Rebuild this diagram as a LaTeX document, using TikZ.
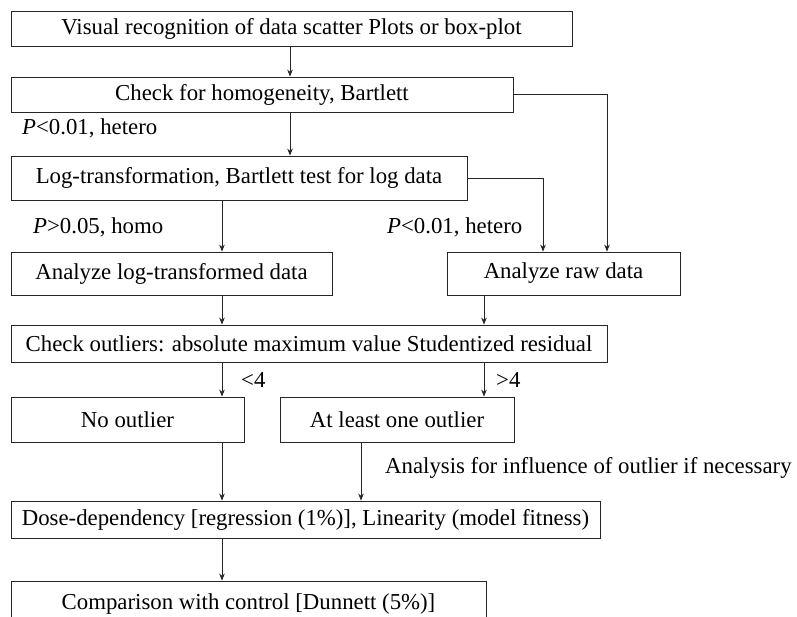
\documentclass[tikz,border=0pt]{standalone}
\usepackage{fontspec}
\setmainfont{Liberation Serif}
\usetikzlibrary{arrows.meta}
\begin{document}
\begin{tikzpicture}[x=1pt,y=-1pt,
  font=\fontsize{22.8}{26}\selectfont,
  box/.style={draw=black!85, line width=0.8pt, inner sep=0pt, anchor=center},
  arr/.style={draw=black!85, line width=0.8pt, -{Stealth[length=7pt,width=5.5pt]}},
  lbl/.style={anchor=west, inner sep=0pt}]
\useasboundingbox (0,0) rectangle (797,617);
\fill[white] (0,0) rectangle (797,617);
% boxes
\node[box, minimum width=561pt, minimum height=35pt] (b1) at (291.5,28.5) {Visual recognition of data scatter Plots or box-plot};
\node[box, minimum width=502pt, minimum height=35pt] (b2) at (262,94.5) {Check for homogeneity, Bartlett};
\node[box, minimum width=456pt, minimum height=44pt] (b3) at (239,178) {Log-transformation, Bartlett test for log data};
\node[box, minimum width=321pt, minimum height=43pt] (b4) at (171.5,273.5) {Analyze log-transformed data};
\node[box, minimum width=233pt, minimum height=43pt] (b5) at (563.5,273.5) {Analyze raw data};
\node[box, minimum width=596pt, minimum height=37pt] (b6) at (309,343.5) {Check outliers: absolute maximum value Studentized residual};
\node[box, minimum width=233pt, minimum height=45pt] (b7) at (127.5,419.5) {No outlier};
\node[box, minimum width=234pt, minimum height=45pt] (b8) at (397,419.5) {At least one outlier};
\node[box, minimum width=589pt, minimum height=37pt] (b9) at (305.5,519.5) {Dose-dependency [regression (1\%)], Linearity (model fitness)};
\node[box, minimum width=475pt, minimum height=46pt] (b10) at (248.5,604) {Comparison with control [Dunnett (5\%)]};
% labels
\node[lbl] (l1) at (22,128) {\textit{P}<0.01, hetero};
\node[lbl] (l2) at (33,227) {\textit{P}>0.05, homo};
\node[lbl] (l3) at (387,227) {\textit{P}<0.01, hetero};
\node[lbl] (l4) at (241,380) {<4};
\node[lbl] (l5) at (496,380) {>4};
\node[lbl] (l6) at (385,468) {Analysis for influence of outlier if necessary};
% guide coordinates
\coordinate (xa) at (290,0);
\coordinate (xb) at (222,0);
\coordinate (xc) at (484,0);
\coordinate (xd) at (361,0);
\coordinate (xe) at (607,0);
\coordinate (xf) at (543,0);
% connectors
\draw[arr] (b1.south -| xa) -- (b2.north -| xa);
\draw[arr] (b2.south -| xa) -- (b3.north -| xa);
\draw[arr] (b2.east) -| (b5.north -| xe);
\draw[arr] (b3.east) -| (b5.north -| xf);
\draw[arr] (b3.south -| xb) -- (b4.north -| xb);
\draw[arr] (b4.south -| xb) -- (b6.north -| xb);
\draw[arr] (b5.south -| xc) -- (b6.north -| xc);
\draw[arr] (b6.south -| xb) -- (b7.north -| xb);
\draw[arr] (b6.south -| xc) -- (b8.north -| xc);
\draw[arr] (b7.south -| xb) -- (b9.north -| xb);
\draw[arr] (b8.south -| xd) -- (b9.north -| xd);
\draw[arr] (b9.south -| xb) -- (b10.north -| xb);
\end{tikzpicture}
\end{document}
